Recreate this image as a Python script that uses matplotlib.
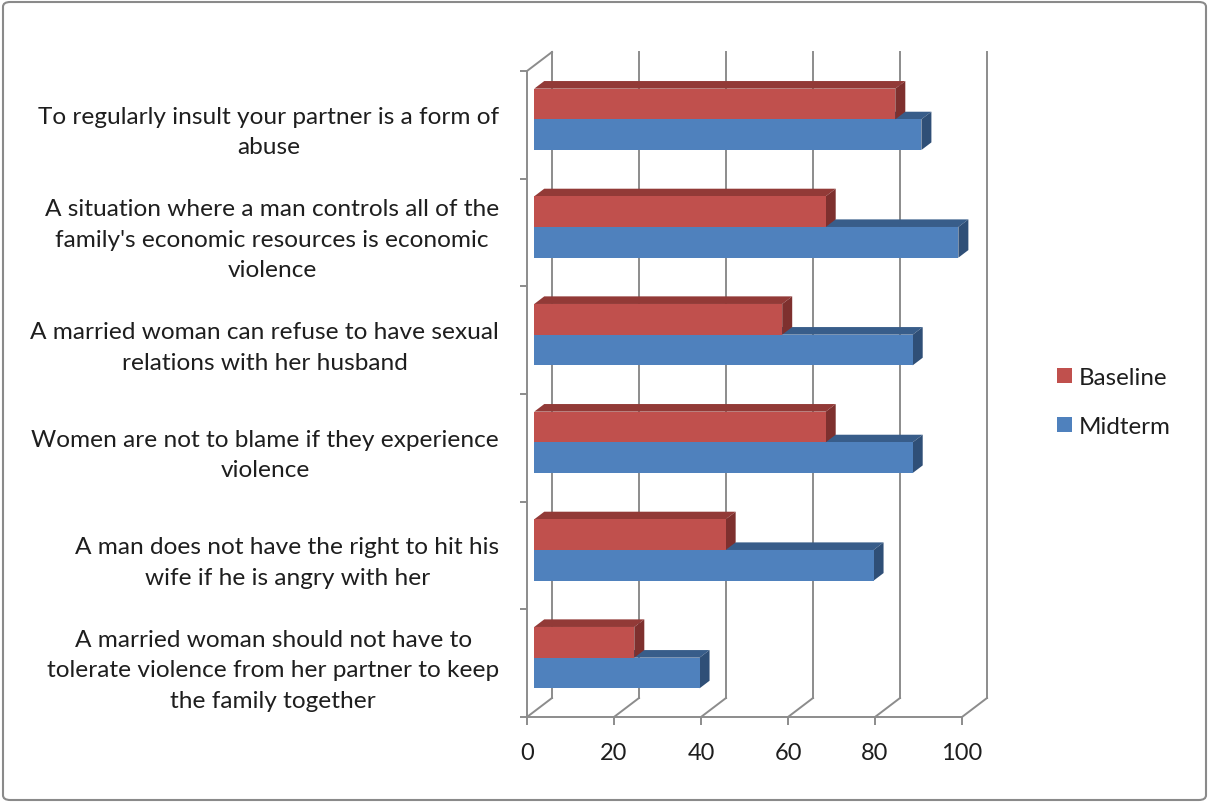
import matplotlib
matplotlib.use("Agg")
import matplotlib.pyplot as plt
import matplotlib.transforms as mtransforms
from matplotlib.patches import Polygon, FancyBboxPatch, Patch
from matplotlib.lines import Line2D
import numpy as np

plt.rcParams['font.family'] = ['Lato', 'DejaVu Sans']

# categories listed bottom -> top
categories = [
    "A married woman should not have to\ntolerate violence from her partner to keep\nthe family together",
    "A man does not have the right to hit his\nwife if he is angry with her",
    "Women are not to blame if they experience\nviolence",
    "A married woman can refuse to have sexual\nrelations with her husband",
    "A situation where a man controls all of the\nfamily's economic resources is economic\nviolence",
    "To regularly insult your partner is a form of\nabuse",
]
baseline = [23, 44, 67, 57, 67, 83]
midterm = [38, 78, 87, 87, 97.5, 89]
series_names = ["Baseline", "Midterm"]
xticks = [0, 20, 40, 60, 80, 100]

red_front, red_top, red_side = "#C0504D", "#923A37", "#7E302E"
blue_front, blue_top, blue_side = "#4F81BD", "#385D8A", "#2F4F77"
grid_col = "#8C8C8C"
txt_col = "#1E1E1E"

W, H = 1209, 804
fig = plt.figure(figsize=(W / 100, H / 100), dpi=100)
ax = fig.add_axes([527 / W, (H - 718) / H, (962 - 527) / W, (718 - 72) / H])
ax.set_xlim(0, 100)
ax.set_ylim(0, len(categories))

# depth of the 3D box in pixels, bar position inside it
DX, DY = 25, 19
f, t = 0.29, 0.40
bh = 0.285

def P(x, y, d):
    return ax.transData.transform((x, y)) + np.array([DX * d, DY * d])

ident = mtransforms.IdentityTransform()

def poly(pts, color, z):
    ax.add_patch(Polygon(pts, closed=True, facecolor=color, edgecolor='none',
                         transform=ident, clip_on=False, zorder=z))

def line(p0, p1, z=1):
    ax.add_line(Line2D([p0[0], p1[0]], [p0[1], p1[1]], color=grid_col, lw=1.4,
                       transform=ident, clip_on=False, zorder=z))

n = len(categories)
# back wall gridlines and floor diagonals
for xv in xticks:
    line(P(xv, 0, 1), P(xv, n, 1))
    line(P(xv, 0, 0), P(xv, 0, 1))
line(P(0, n, 0), P(0, n, 1))

def bar3d(v, y0, y1, cf, ct, cs, z):
    poly([P(0, y1, f), P(v, y1, f), P(v, y1, f + t), P(0, y1, f + t)], ct, z)
    poly([P(v, y0, f), P(v, y0, f + t), P(v, y1, f + t), P(v, y1, f)], cs, z)
    poly([P(0, y0, f), P(v, y0, f), P(v, y1, f), P(0, y1, f)], cf, z)

for i in range(n):
    c = i + 0.5
    bar3d(midterm[i], c - bh, c, blue_front, blue_top, blue_side, 3 + 2 * i)
    bar3d(baseline[i], c, c + bh, red_front, red_top, red_side, 4 + 2 * i)

for s in ['top', 'right']:
    ax.spines[s].set_visible(False)
for s in ['left', 'bottom']:
    ax.spines[s].set_color(grid_col)
    ax.spines[s].set_linewidth(1.4)
ax.set_facecolor('none')

ax.set_xticks(xticks)
ax.set_xticklabels([str(v) for v in xticks])
ax.tick_params(axis='x', length=6, width=1.4, color=grid_col, pad=12,
               labelsize=17, labelcolor=txt_col)

ax.set_yticks(np.arange(n) + 0.5)
ax.set_yticklabels(categories)
ax.set_yticks(np.arange(n + 1), minor=True)
ax.tick_params(axis='y', which='major', length=0, pad=20, labelsize=17.6,
               labelcolor=txt_col)
ax.tick_params(axis='y', which='minor', length=5, width=1.4, color=grid_col)
for lab in ax.get_yticklabels():
    lab.set_multialignment('center')
    lab.set_linespacing(1.55)

handles = [Patch(facecolor=red_front), Patch(facecolor=blue_front)]
fig.legend(handles, series_names, loc='center left',
           bbox_to_anchor=(1057 / W, (H - 403) / H), frameon=False,
           fontsize=17.4, handlelength=0.62, handleheight=0.62,
           handletextpad=0.3, labelspacing=1.15, labelcolor=txt_col,
           borderaxespad=0, borderpad=0)

fig.add_artist(FancyBboxPatch((3 / W, 3 / H), (W - 6) / W, (H - 6) / H,
                              boxstyle="round,pad=0,rounding_size=0.006",
                              transform=fig.transFigure, facecolor='none',
                              edgecolor='#8A8A8A', lw=1.5))

fig.savefig("out.png", dpi=100)
